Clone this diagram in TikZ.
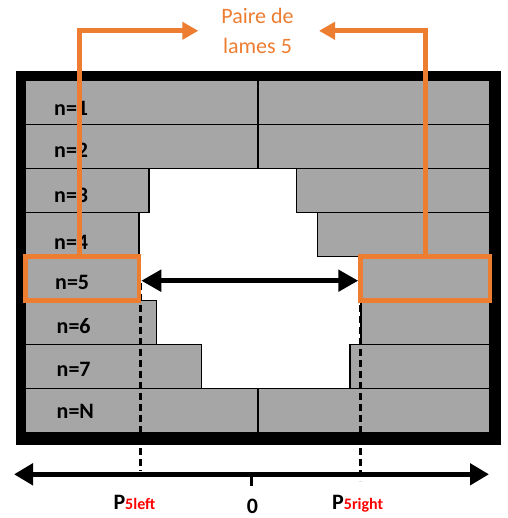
\documentclass[tikz,border=0pt]{standalone}
\usepackage{fontspec}
\setmainfont{Carlito}
\usetikzlibrary{arrows.meta,fit}
\definecolor{blockgray}{HTML}{A6A6A6}
\definecolor{orangeline}{HTML}{ED7D31}
\definecolor{sublabel}{HTML}{FF0000}
\begin{document}
\begin{tikzpicture}[x=1pt,y=-1pt,
  blk/.style={draw=black,line width=1.2pt,fill=blockgray,inner sep=0pt,outer sep=0pt,anchor=north west,minimum height=44pt},
  lab/.style={anchor=base west,font=\fontsize{22}{22}\selectfont\bfseries,inner sep=0pt},
  obox/.style={draw=orangeline,line width=4.5pt,inner sep=0pt,fit=#1},
  oline/.style={draw=orangeline,line width=5pt,-{Triangle[length=16pt,width=17pt]}},
  dashline/.style={draw=black,line width=2.8pt,dash pattern=on 7pt off 4pt},
  axlab/.style={anchor=base west,inner sep=0pt,font=\fontsize{22}{22}\selectfont\bfseries}
]
\path[use as bounding box] (0,0) rectangle (507,518);
% frame
\fill[black] (16,70.7) rectangle (501,445);
\fill[white] (25.7,80.7) rectangle (490,432.7);
% blocks
\node[blk,minimum width=232.3pt] (l1) at (25.7,80.7) {};
\node[blk,minimum width=232pt]   (r1) at (258,80.7) {};
\node[blk,minimum width=232.3pt] (l2) at (25.7,124.7) {};
\node[blk,minimum width=232pt]   (r2) at (258,124.7) {};
\node[blk,minimum width=123.3pt] (l3) at (25.7,168.7) {};
\node[blk,minimum width=193.3pt] (r3) at (296.7,168.7) {};
\node[blk,minimum width=113.3pt] (l4) at (25.7,212.7) {};
\node[blk,minimum width=172.3pt] (r4) at (317.7,212.7) {};
\node[blk,minimum width=113.3pt] (l5) at (25.7,256.7) {};
\node[blk,minimum width=129.5pt] (r5) at (360.5,256.7) {};
\node[blk,minimum width=131pt]   (l6) at (25.7,300.7) {};
\node[blk,minimum width=129pt]   (r6) at (361,300.7) {};
\node[blk,minimum width=176pt]   (l7) at (25.7,344.7) {};
\node[blk,minimum width=140pt]   (r7) at (350,344.7) {};
\node[blk,minimum width=232.3pt] (l8) at (25.7,388.7) {};
\node[blk,minimum width=232pt]   (r8) at (258,388.7) {};
% row labels
\node[lab] (t1) at (54,116) {n=1};
\node[lab] (t2) at (54,157.3) {n=2};
\node[lab] (t3) at (54,202.3) {n=3};
\node[lab] (t4) at (54,249) {n=4};
\node[lab] (t5) at (55,289.3) {n=5};
\node[lab] (t6) at (56.5,333.3) {n=6};
\node[lab] (t7) at (56.5,376.7) {n=7};
\node[lab] (t8) at (56.5,418.3) {n=N};
% dashed projections
\coordinate (dL1) at (140.5,283);
\coordinate (dL2) at (140.5,471);
\coordinate (dR1) at (360.3,283);
\coordinate (dR2) at (360.3,481);
\draw[dashline] (dL1) -- (dL2);
\draw[dashline] (dR1) -- (dR2);
% orange boxes
\node[obox=(l5)] (ob5l) {};
\node[obox=(r5)] (ob5r) {};
% black double arrow
\draw[line width=5pt,{Triangle[length=20pt,width=21pt]}-{Triangle[length=20pt,width=21pt]}]
  ([yshift=-2pt]ob5l.east) -- ([yshift=-2pt]ob5r.west);
% title and orange connectors
\node[align=center,text=orangeline,inner sep=0pt,font=\fontsize{22}{30}\selectfont] (pl) at (257.5,30.5) {Paire de\\lames 5};
\coordinate (tipL) at (198.3,30.8);
\coordinate (tipR) at (319,30.8);
\draw[oline] ([xshift=-2.4pt]ob5l.north) |- (tipL);
\draw[oline] (ob5r.north) |- (tipR);
% axis
\coordinate (axL) at (14,474.3);
\coordinate (axR) at (489,474.3);
\coordinate (tk1) at (251.3,474.3);
\coordinate (tk2) at (251.3,486);
\draw[line width=5pt,{Triangle[length=19pt,width=21pt]}-{Triangle[length=19pt,width=21pt]}] (axL) -- (axR);
\draw[line width=3.5pt] (tk1) -- (tk2);
% axis labels
\node[axlab] (pleft) at (113.3,509.5) {P{\fontsize{16}{16}\selectfont\color{sublabel}5left}};
\node[axlab,anchor=base] (zero) at (252.5,513) {0};
\node[axlab] (pright) at (332,509.5) {P{\fontsize{16}{16}\selectfont\color{sublabel}5right}};
\end{tikzpicture}
\end{document}
